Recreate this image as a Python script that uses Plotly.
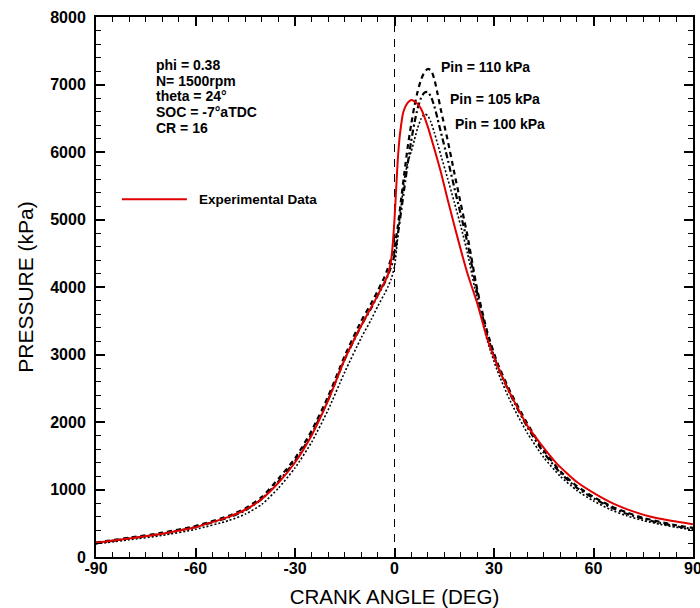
import plotly.graph_objects as go

# Crank angle grid (deg) and measured cylinder pressure (kPa)
angle_exp = [-90, -80, -70, -60, -50, -45, -40, -35, -30, -25, -20, -15, -10, -7, -5, -4, -3, -2, -1,
             -0.5, 0, 0.5, 1, 1.5, 2, 2.5, 3, 4, 5, 6, 7, 8, 10, 12, 14, 16, 18, 20, 22, 25, 28, 31,
             34, 37, 40, 44, 49, 55, 60, 66, 70, 77, 83, 90]
p_exp = [210, 275, 345, 440, 595, 700, 860, 1100, 1400, 1800, 2320, 2930, 3430, 3700, 3880, 3980, 4070,
         4180, 4400, 4650, 5000, 5450, 5900, 6200, 6400, 6560, 6640, 6730, 6770, 6750, 6710, 6640, 6380,
         6050, 5700, 5300, 4920, 4550, 4200, 3750, 3230, 2840, 2510, 2220, 1950, 1680, 1380, 1110, 950,
         790, 710, 600, 540, 485]

# Simulated pressure traces for three intake pressures
angle_sim = [-90, -80, -70, -60, -50, -45, -40, -35, -30, -25, -20, -15, -10, -7, -5, -3, -2, -1, 0, 1,
             2, 3, 4, 5, 6, 7, 8, 9, 10, 11, 12, 13, 14, 16, 18, 20, 22, 25, 28, 31, 35, 40, 45, 50, 55,
             60, 65, 70, 75, 80, 85, 90]
p_pin110 = [215, 285, 360, 460, 610, 720, 890, 1160, 1460, 1870, 2380, 2980, 3500, 3760, 3950, 4150,
            4280, 4420, 4600, 4900, 5300, 5700, 6080, 6400, 6680, 6900, 7070, 7180, 7230, 7210, 7080,
            6860, 6620, 6180, 5700, 5230, 4760, 3950, 3330, 2880, 2440, 1980, 1580, 1270, 1050, 890,
            760, 660, 580, 520, 470, 430]
p_pin105 = [205, 275, 345, 445, 585, 690, 860, 1120, 1420, 1820, 2330, 2930, 3430, 3690, 3880, 4060,
            4170, 4300, 4470, 4780, 5120, 5480, 5830, 6150, 6430, 6650, 6800, 6880, 6890, 6820, 6680,
            6490, 6290, 5900, 5480, 5070, 4650, 3900, 3280, 2840, 2400, 1930, 1545, 1245, 1025, 870,
            740, 640, 565, 505, 455, 415]
p_pin100 = [195, 255, 320, 410, 540, 635, 780, 1020, 1320, 1700, 2180, 2740, 3250, 3520, 3720, 3900,
            4000, 4120, 4300, 4750, 5200, 5600, 5850, 6000, 6180, 6360, 6490, 6560, 6540, 6440, 6290,
            6120, 5950, 5610, 5260, 4900, 4500, 3800, 3200, 2760, 2300, 1840, 1475, 1195, 985, 830,
            705, 610, 540, 485, 440, 400]

x_ticks = [-90, -60, -30, 0, 30, 60, 90]
y_ticks = [0, 1000, 2000, 3000, 4000, 5000, 6000, 7000, 8000]

conditions = ["phi = 0.38", "N= 1500rpm", "theta = 24\u00b0", "SOC = -7\u00b0aTDC", "CR = 16"]
sim_labels = ["Pin = 110 kPa", "Pin = 105 kPa", "Pin = 100 kPa"]

FONT = "Liberation Sans, Arial, sans-serif"

fig = go.Figure()

sim_styles = [(p_pin110, "5px,4px", 2.2), (p_pin105, "6px,3px,2px,3px", 2.2), (p_pin100, "2px,2px", 1.6)]
for (vals, dash, w), name in zip(sim_styles, sim_labels):
    fig.add_trace(go.Scatter(x=angle_sim, y=vals, mode="lines", name=name,
                             line=dict(color="black", width=w, dash=dash, shape="spline", smoothing=0.6)))

fig.add_trace(go.Scatter(x=angle_exp, y=p_exp, mode="lines", name="Experimental Data",
                         line=dict(color="#e00000", width=2, shape="spline", smoothing=0.5)))

# TDC marker
fig.add_shape(type="line", x0=0, x1=0, y0=0, y1=8000, xref="x", yref="y",
              line=dict(color="black", width=1, dash="8px,7px"), layer="below")

# Legend sample for the measured trace
fig.add_shape(type="line", x0=-82.2, x1=-62.6, y0=5300, y1=5300, xref="x", yref="y",
              line=dict(color="#e00000", width=2))
fig.add_annotation(x=-59.6, y=5300, text="Experimental Data", showarrow=False, xanchor="left",
                   yanchor="middle", font=dict(family=FONT, size=13.5, color="black", weight="bold"))

# Operating conditions block
cond_y = [7290, 7055, 6825, 6590, 6355]
for txt, yy in zip(conditions, cond_y):
    fig.add_annotation(x=-72.5, y=yy, text=txt, showarrow=False, xanchor="left", yanchor="middle",
                       font=dict(family=FONT, size=14, color="black", weight="bold"))

# Intake pressure labels
lab_pos = [(13.4, 7260), (16.1, 6785), (17.6, 6415)]
for txt, (xx, yy) in zip(sim_labels, lab_pos):
    fig.add_annotation(x=xx, y=yy, text=txt, showarrow=False, xanchor="left", yanchor="middle",
                       font=dict(family=FONT, size=14, color="black", weight="bold"))

axis_common = dict(showgrid=False, zeroline=False, showline=True, linecolor="black", linewidth=2,
                   ticks="inside", ticklen=9, tickwidth=2, tickcolor="black", mirror="allticks",
                   automargin=False, ticklabeloverflow="allow",
                   tickfont=dict(family=FONT, size=16, color="black", weight="bold"))

fig.update_xaxes(range=[-90, 90], tickvals=x_ticks, ticktext=[str(v) for v in x_ticks],
                 minor=dict(dtick=5, tick0=-90, ticks="inside", ticklen=5, tickwidth=1, tickcolor="black"),
                 ticklabelstandoff=-4,
                 title=dict(text="CRANK ANGLE (DEG)", font=dict(family=FONT, size=20.5, color="black"),
                            standoff=18),
                 **axis_common)
fig.update_yaxes(range=[0, 8000], tickvals=y_ticks, ticktext=[str(v) for v in y_ticks],
                 minor=dict(dtick=200, tick0=0, ticks="inside", ticklen=5, tickwidth=1, tickcolor="black"),
                 ticklabelstandoff=5,
                 title=dict(text="PRESSURE (kPa)", font=dict(family=FONT, size=21, color="black"),
                            standoff=11),
                 **axis_common)

fig.update_layout(width=700, height=608, margin=dict(l=96, r=7, t=17, b=51),
                  paper_bgcolor="white", plot_bgcolor="white", showlegend=False)

fig.write_html("out.html")
